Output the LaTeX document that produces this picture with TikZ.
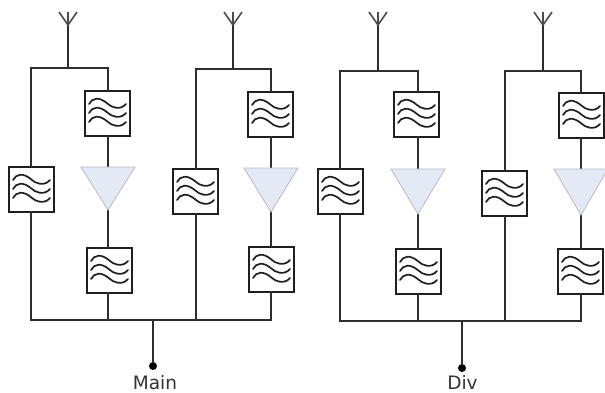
\documentclass[tikz,border=0pt]{standalone}
\usepackage{fontspec}
\setmainfont{DejaVu Sans}
\definecolor{amp}{HTML}{E4EAF5}
\definecolor{ampedge}{HTML}{B4BBC4}
\tikzset{
  wire/.style={draw=black!82,line width=2.7pt,line cap=rect},
  forkline/.style={draw=black!70,line width=1.6pt},
  filterbox/.style={draw=black!88,line width=2pt,fill=white,minimum width=45pt,minimum height=45pt,inner sep=0pt,
    path picture={
      \foreach \d in {-9,0,9}{
        \draw[black!88,line width=1.7pt,line cap=round,shift={(path picture bounding box.center)}]
          (-18,\d) .. controls (-15,\d-6) and (-8,\d-8) .. (1,\d)
          .. controls (4,\d+3) and (13,\d+7) .. (19,\d);
      }
    }},
  terminal/.style={circle,fill=black,inner sep=0pt,minimum size=8pt},
  lbl/.style={font=\fontsize{18.5}{20}\selectfont,text=black!80,inner sep=0pt,anchor=base}
}
\begin{document}
\begin{tikzpicture}[x=1pt,y=-1pt]
\useasboundingbox (0,0) rectangle (605,392);
\foreach \n/\ax/\jy/\lx/\rx/\lfx/\lfy/\tfx/\tfy/\tty/\tay/\bfx/\bfy in {
  a/68/68/31/108/31/189/107/113/167/210/109/270,
  b/233/69/196/271/195/191/270/114/168/212/271/269,
  c/378/71/340/418/340/191/416/114/169/214/418/271,
  d/543/71/505/581/504/193/581/115/169/215/580/271}{
  \coordinate (fork\n) at (\ax,25);
  \coordinate (forkL\n) at (\ax-9,12);
  \coordinate (forkM\n) at (\ax,12);
  \coordinate (forkR\n) at (\ax+9,12);
  \coordinate (top\n) at (\ax,\jy);
  \coordinate (topL\n) at (\lx,\jy);
  \coordinate (topR\n) at (\rx,\jy);
  \coordinate (busL\n) at (\lx,320);
  \coordinate (busR\n) at (\rx,320);
  \coordinate (ampT\n) at (\rx,\tty);
  \coordinate (ampB\n) at (\rx,\tay);
  \coordinate (ampL\n) at (\rx-27,\tty);
  \coordinate (ampR\n) at (\rx+27,\tty);
  \node[filterbox] (fL\n) at (\lfx,\lfy) {};
  \node[filterbox] (fT\n) at (\tfx,\tfy) {};
  \node[filterbox] (fB\n) at (\bfx,\bfy) {};
  \draw[wire] (fork\n) -- (top\n);
  \draw[forkline] (forkM\n) -- (fork\n);
  \draw[forkline] (forkL\n) -- (fork\n) -- (forkR\n);
  \draw[wire] (topR\n) -- (topL\n);
  \draw[wire] (fT\n.north -| topR\n) -- (topR\n);
  \draw[wire] (topL\n) -- (fL\n.north -| topL\n);
  \draw[wire] (fL\n.south -| topL\n) -- (busL\n);
  \draw[wire] (fT\n.south -| topR\n) -- (ampT\n);
  \draw[wire] (ampB\n) -- (fB\n.north -| ampB\n);
  \draw[wire] (fB\n.south -| busR\n) -- (busR\n);
  \fill[amp,draw=ampedge,line width=0.8pt] (ampL\n) -- (ampR\n) -- (ampB\n) -- cycle;
}
\coordinate (jM) at (153,320);
\coordinate (jD) at (462,321);
\node[terminal] (tM) at (153,366) {};
\node[terminal] (tD) at (462,368) {};
\draw[wire] (busLa) -- (busRb);
\draw[wire] (busLc |- jD) -- (busRd |- jD);
\draw[wire] (jM) -- (tM);
\draw[wire] (jD) -- (tD);
\node[lbl] (lM) at (155,389) {Main};
\node[lbl] (lD) at (462.5,389) {Div};
\end{tikzpicture}
\end{document}
